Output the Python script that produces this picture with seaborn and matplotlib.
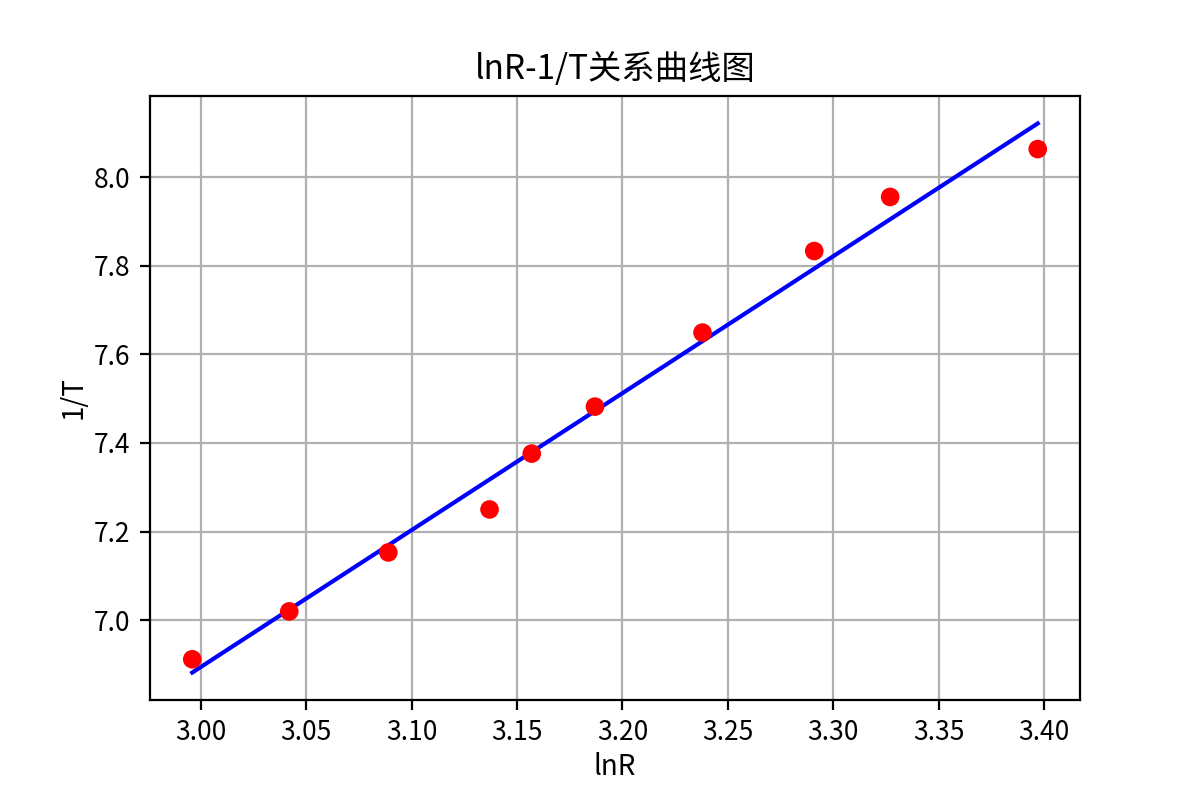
import numpy as np
import pandas as pd
import seaborn as sns
import matplotlib
matplotlib.use('Agg')
import matplotlib.pyplot as plt

plt.rcParams['font.family'] = ['Noto Sans CJK SC', 'DejaVu Sans']
plt.rcParams['axes.unicode_minus'] = False

# measured points
ln_r = [2.996, 3.042, 3.089, 3.137, 3.157, 3.187, 3.238, 3.291, 3.327, 3.397]
inv_t = [6.912, 7.020, 7.153, 7.250, 7.376, 7.482, 7.649, 7.833, 7.955, 8.063]

df = pd.DataFrame({'lnR': ln_r, '1/T': inv_t})

# least squares line
k, b = np.polyfit(df['lnR'], df['1/T'], 1)
df['fit'] = k * df['lnR'] + b

fig, ax = plt.subplots(figsize=(6, 4), dpi=200)
fig.subplots_adjust(left=0.125, right=0.9, top=0.88, bottom=0.125)
sns.scatterplot(x='lnR', y='1/T', data=df, color='red', s=45, edgecolor='none', zorder=3, ax=ax)
sns.lineplot(x='lnR', y='fit', data=df, color='blue', linewidth=1.5, zorder=2, ax=ax)

ax.set_title('lnR-1/T关系曲线图')
ax.set_xlabel('lnR', labelpad=2)
ax.set_ylabel('1/T', labelpad=2)
ax.tick_params(labelsize=9.5)
ax.grid(True)
ax.set_axisbelow(True)

plt.savefig('out.png', dpi=200)
